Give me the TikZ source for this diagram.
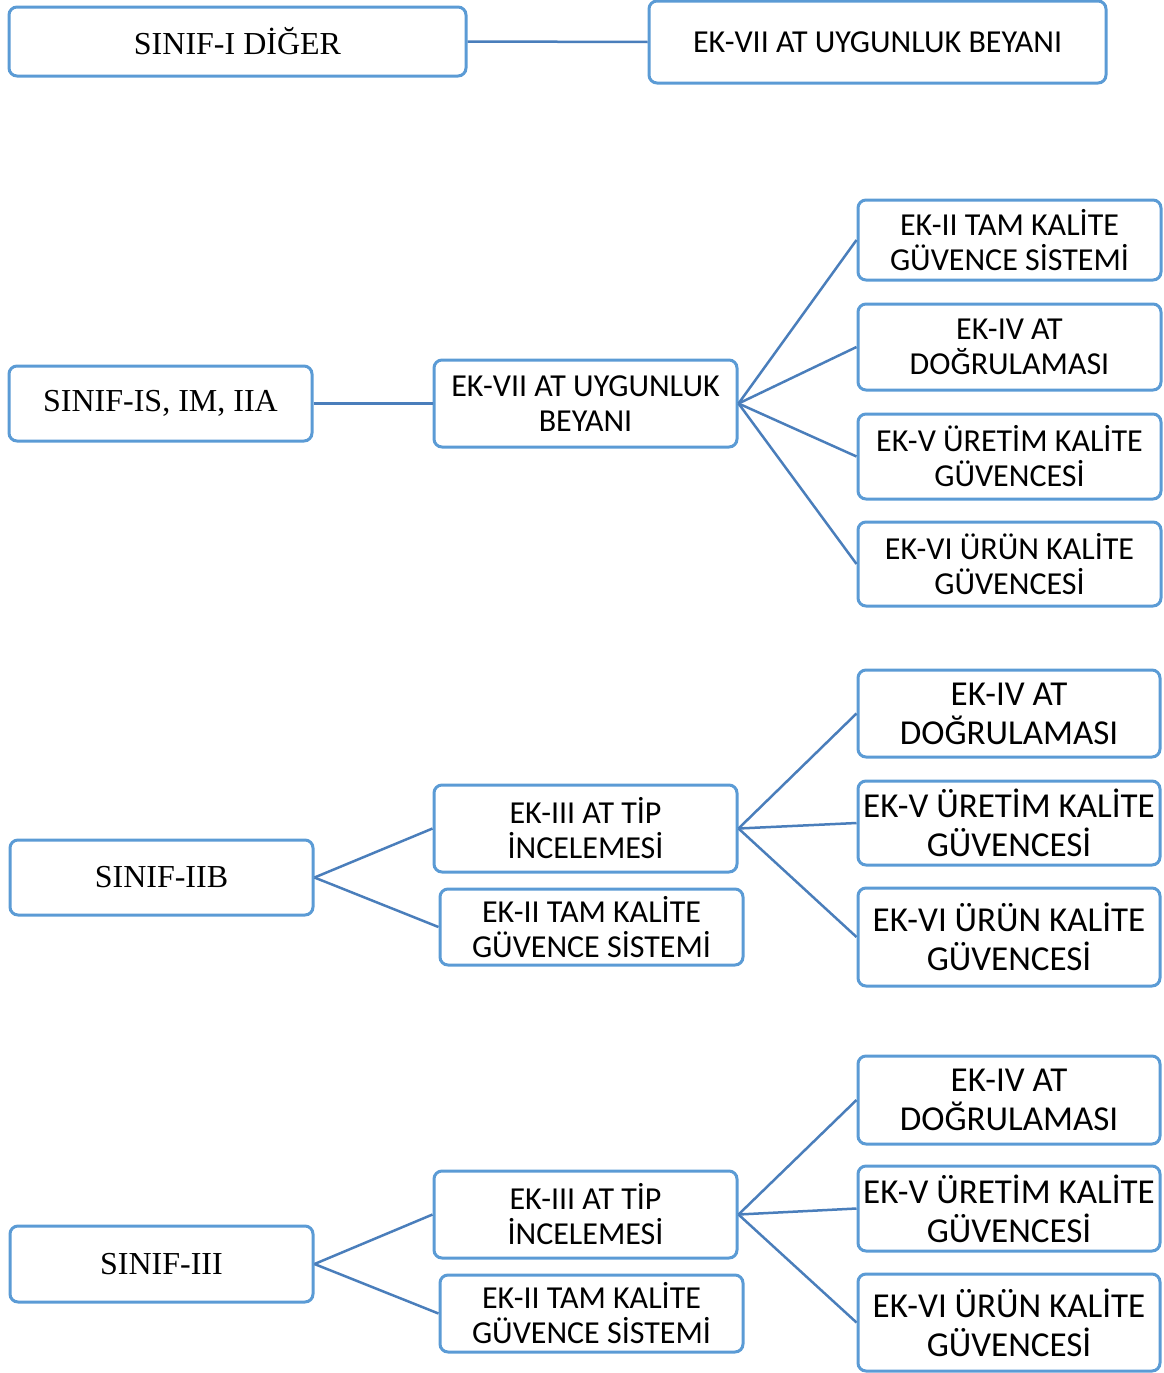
\documentclass[tikz,border=0pt]{standalone}
\usepackage{fontspec}
\setmainfont{Liberation Serif}
\newfontfamily\calibri{Carlito}
\definecolor{boxblue}{RGB}{91,155,213}
\definecolor{lineblue}{RGB}{74,126,187}
\tikzset{
  kutu/.style={draw=boxblue, line width=3pt, rounded corners=8pt, fill=white,
    align=center, inner sep=0pt, minimum width=303pt},
  sinif/.style={kutu, font=\fontsize{32}{36}\selectfont},
  ek/.style={kutu, font=\calibri\fontsize{32}{35}\selectfont},
  ekb/.style={kutu, font=\calibri\fontsize{35}{39}\selectfont},
  bag/.style={draw=lineblue, line width=2.5pt}
}
\begin{document}
\begin{tikzpicture}[x=1pt,y=-1pt]
  \useasboundingbox (0,0) rectangle (1164,1373);
  % Sinif I diger
  \node[sinif, minimum width=457pt, minimum height=69pt] (diger) at (237.5,41.5) {SINIF-I DİĞER};
  \node[ek, minimum width=457pt, minimum height=82pt] (beyan1) at (877.5,42) {EK-VII AT UYGUNLUK BEYANI};
  \draw[bag] (diger.east) -- (beyan1.west);
  % Sinif IS, IM, IIA
  \node[sinif, minimum height=75pt] (sinifa) at (160.5,403.5) {SINIF-IS, IM, IIA};
  \node[ek, minimum height=87pt] (beyan2) at (585.5,403.5) {EK-VII AT UYGUNLUK\\BEYANI};
  \node[ek, minimum height=80pt] (tama) at (1009.5,240) {EK-II TAM KALİTE\\GÜVENCE SİSTEMİ};
  \node[ek, minimum height=86pt] (doga) at (1009.5,347) {EK-IV AT\\DOĞRULAMASI};
  \node[ek, minimum height=85pt] (ureta) at (1009.5,456.5) {EK-V ÜRETİM KALİTE\\GÜVENCESİ};
  \node[ek, minimum height=84pt] (uruna) at (1009.5,564) {EK-VI ÜRÜN KALİTE\\GÜVENCESİ};
  \draw[bag] (sinifa.east) -- (beyan2.west);
  \draw[bag] (beyan2.east) -- (tama.west);
  \draw[bag] (beyan2.east) -- (doga.west);
  \draw[bag] (beyan2.east) -- (ureta.west);
  \draw[bag] (beyan2.east) -- (uruna.west);
  % Sinif IIB
  \node[sinif, minimum height=75pt] (sinifb) at (161.5,877.5) {SINIF-IIB};
  \node[ek, minimum height=87pt] (tipb) at (585.5,828.5) {EK-III AT TİP\\İNCELEMESİ};
  \node[ek, minimum height=76pt] (tamb) at (591.5,927) {EK-II TAM KALİTE\\GÜVENCE SİSTEMİ};
  \node[ekb, minimum width=302pt, minimum height=87pt] (dogb) at (1009,713.5) {EK-IV AT\\DOĞRULAMASI};
  \node[ekb, minimum width=302pt, minimum height=84pt] (uretb) at (1009,823) {EK-V ÜRETİM KALİTE\\GÜVENCESİ};
  \node[ekb, minimum width=302pt, minimum height=98pt] (urunb) at (1009,937) {EK-VI ÜRÜN KALİTE\\GÜVENCESİ};
  \draw[bag] (sinifb.east) -- (tipb.west);
  \draw[bag] (sinifb.east) -- (tamb.west);
  \draw[bag] (tipb.east) -- (dogb.west);
  \draw[bag] (tipb.east) -- (uretb.west);
  \draw[bag] (tipb.east) -- (urunb.west);
  % Sinif III
  \node[sinif, minimum height=76pt] (sinifc) at (161.5,1264) {SINIF-III};
  \node[ek, minimum height=87pt] (tipc) at (585.5,1214.5) {EK-III AT TİP\\İNCELEMESİ};
  \node[ek, minimum height=77pt] (tamc) at (591.5,1313.5) {EK-II TAM KALİTE\\GÜVENCE SİSTEMİ};
  \node[ekb, minimum width=302pt, minimum height=88pt] (dogc) at (1009,1100) {EK-IV AT\\DOĞRULAMASI};
  \node[ekb, minimum width=302pt, minimum height=85pt] (uretc) at (1009,1208.5) {EK-V ÜRETİM KALİTE\\GÜVENCESİ};
  \node[ekb, minimum width=302pt, minimum height=97pt] (urunc) at (1009,1322.5) {EK-VI ÜRÜN KALİTE\\GÜVENCESİ};
  \draw[bag] (sinifc.east) -- (tipc.west);
  \draw[bag] (sinifc.east) -- (tamc.west);
  \draw[bag] (tipc.east) -- (dogc.west);
  \draw[bag] (tipc.east) -- (uretc.west);
  \draw[bag] (tipc.east) -- (urunc.west);
\end{tikzpicture}
\end{document}
